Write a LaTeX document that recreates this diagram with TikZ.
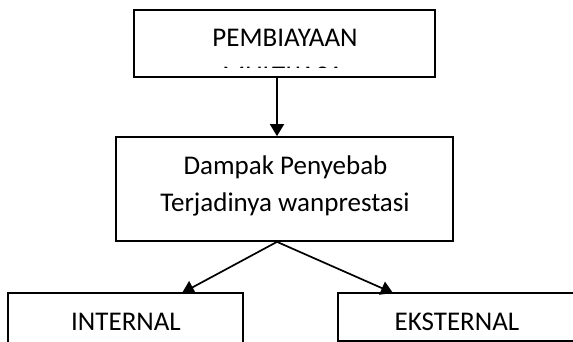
\documentclass[tikz,border=0pt]{standalone}
\usepackage{fontspec}
\setmainfont{Carlito}
\usetikzlibrary{arrows.meta}
\begin{document}
\begin{tikzpicture}[x=1pt,y=-1pt,
  box/.style={draw,line width=1.7pt,rectangle,inner sep=0pt},
  lbl/.style={anchor=base,inner sep=0pt,font=\fontsize{27}{31}\selectfont},
  conn/.style={line width=1.7pt,-{Triangle[length=12pt,width=14pt]}}]
\useasboundingbox (0,0) rectangle (573,342);
\clip (0,0) rectangle (573,342);
% boxes
\node[box,minimum width=301pt,minimum height=67pt] (top) at (284.5,43.5) {};
\node[box,minimum width=337pt,minimum height=104pt] (mid) at (284.5,189) {};
\node[box,minimum width=235pt,minimum height=60pt] (left) at (125.5,323) {};
\node[box,minimum width=242pt,minimum height=48pt] (right) at (459,317) {};
% texts
\node[lbl] (t1) at (285,46.5) {PEMBIAYAAN};
\begin{scope}
\clip (140,12) rectangle (430,67.2);
\node[lbl] (t2) at (283,84.2) {MULTIJASA};
\end{scope}
\node[lbl] (m1) at (285.5,175) {Dampak Penyebab};
\node[lbl] (m2) at (285,211) {Terjadinya wanprestasi};
\node[lbl] (l1) at (126,330) {INTERNAL};
\node[lbl] (r1) at (457,330) {EKSTERNAL};
% connector end points
\coordinate (a0) at ([xshift=-7.5pt]top.south);
\coordinate (a1) at ([xshift=-7.5pt]mid.north);
\coordinate (b0) at ([xshift=-7.5pt]mid.south);
\coordinate (b1) at (182,293);
\coordinate (b2) at (393,293);
\draw[conn] (a0) -- (a1);
\draw[conn] (b0) -- (b1);
\draw[conn] (b0) -- (b2);
\end{tikzpicture}
\end{document}
